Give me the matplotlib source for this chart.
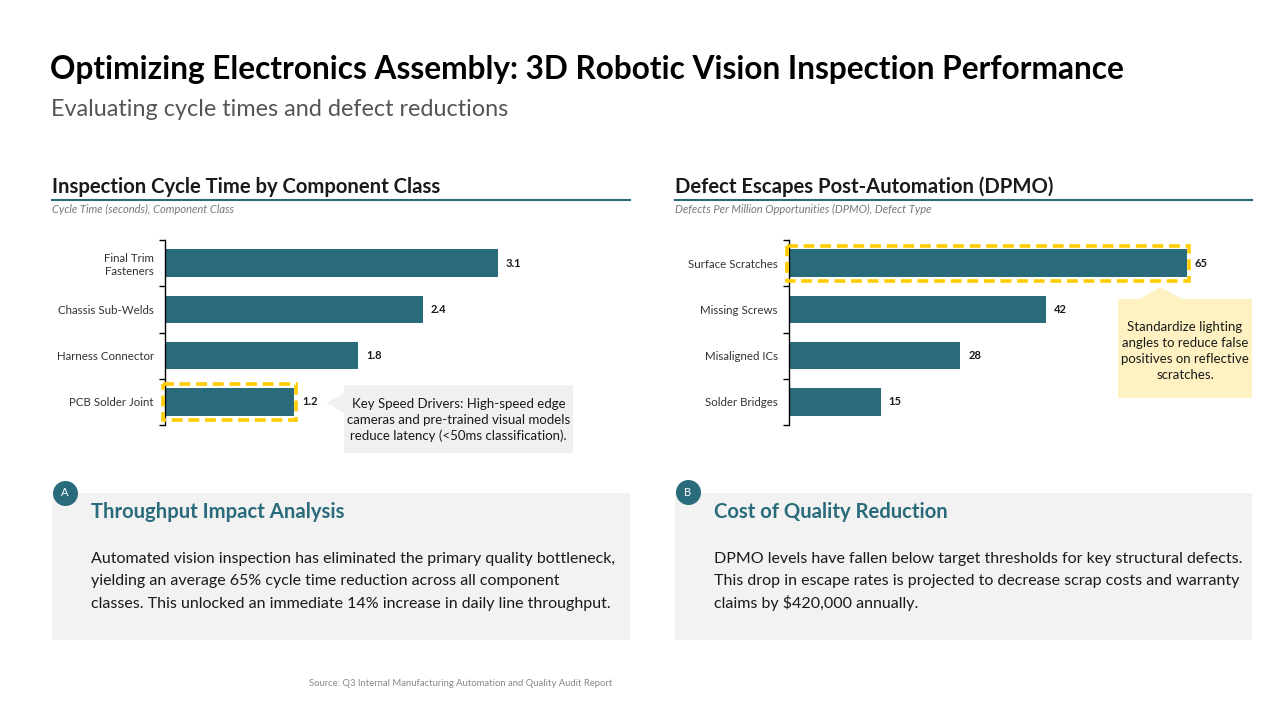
import matplotlib
matplotlib.use("Agg")
import matplotlib.pyplot as plt
from matplotlib.patches import Rectangle, Polygon
import numpy as np

plt.rcParams['font.family'] = ['Lato', 'DejaVu Sans']

TEAL = '#2A6B7B'
YELLOW = '#FFCC00'
DARK = '#1a1a1a'

# data
cycle_classes = ['Final Trim\nFasteners', 'Chassis Sub-Welds', 'Harness Connector', 'PCB Solder Joint']
cycle_times = [3.1, 2.4, 1.8, 1.2]
defect_types = ['Surface Scratches', 'Missing Screws', 'Misaligned ICs', 'Solder Bridges']
defect_dpmo = [65, 42, 28, 15]

W, H = 1280, 720
fig = plt.figure(figsize=(W / 100, H / 100), dpi=100)


def fx(x):
    return x / W


def fy(y):
    return 1 - y / H


def ftext(x, y, s, **kw):
    fig.text(fx(x), fy(y), s, **kw)


# headings
ftext(50, 69, 'Optimizing Electronics Assembly: 3D Robotic Vision Inspection Performance',
      fontsize=22.8, fontweight='bold', color='black', va='center')
ftext(51, 109, 'Evaluating cycle times and defect reductions', fontsize=16.8, color='#555555', va='center')


def section_header(x0, x1, title, sub):
    ftext(x0, 187, title, fontsize=14.6, fontweight='bold', color=DARK, va='center')
    fig.add_artist(plt.Line2D([fx(x0), fx(x1)], [fy(200), fy(200)], color=TEAL, lw=1.5))
    ftext(x0, 209, sub, fontsize=8, style='italic', color='#777777', va='center')


section_header(52, 630, 'Inspection Cycle Time by Component Class', 'Cycle Time (seconds), Component Class')
section_header(675, 1252, 'Defect Escapes Post-Automation (DPMO)',
               'Defects Per Million Opportunities (DPMO), Defect Type')


def bar_panel(left, right, cats, vals, px_per_unit, fmt, hl_idx, hl_pad):
    ax = fig.add_axes([fx(left), fy(425), (right - left) / W, 185 / H])
    y = np.arange(len(cats))
    ax.barh(y, vals, height=0.59, color=TEAL)
    ax.set_xlim(0, (right - left) / px_per_unit)
    ax.set_ylim(len(cats) - 0.5, -0.5)
    ax.set_xticks([])
    ax.set_yticks(y)
    ax.set_yticklabels(cats, fontsize=8.3, color='#333333', ha='right', linespacing=1.25)
    ax.tick_params(axis='y', which='major', length=0, pad=8)
    ax.set_yticks(np.arange(-0.5, len(cats)), minor=True)
    ax.tick_params(axis='y', which='minor', length=4, width=1)
    for s in ['top', 'right', 'bottom']:
        ax.spines[s].set_visible(False)
    ax.spines['left'].set_linewidth(1)
    off = 8 / px_per_unit
    for yi, v in zip(y, vals):
        ax.text(v + off, yi, fmt(v), fontsize=8, fontweight='bold', color=DARK, va='center')
    # dashed highlight
    v = vals[hl_idx]
    px = 2.5 / px_per_unit
    r = Rectangle((-px, hl_idx - hl_pad), v + 2 * px, 2 * hl_pad, fill=False, edgecolor=YELLOW,
                  lw=2.6, ls=(0, (3, 1.6)), clip_on=False, zorder=5)
    ax.add_patch(r)
    return ax


bar_panel(165, 630, cycle_classes, cycle_times, 107.4, lambda v: f'{v:.1f}', 3, 0.39)
bar_panel(789, 1252, defect_types, defect_dpmo, 6.12, lambda v: f'{v:d}', 0, 0.38)


def fig_rect(x0, y0, x1, y1, color, z=1):
    fig.add_artist(Rectangle((fx(x0), fy(y1)), (x1 - x0) / W, (y1 - y0) / H,
                             facecolor=color, edgecolor='none', zorder=z))


def fig_poly(pts, color, z=1):
    fig.add_artist(Polygon([(fx(a), fy(b)) for a, b in pts], closed=True,
                           facecolor=color, edgecolor='none', zorder=z))


# gray callout (left)
fig_rect(344, 385, 573, 453, '#F0F0F0')
fig_poly([(344, 393), (327, 403), (344, 413)], '#F0F0F0')
ftext(458.5, 420, 'Key Speed Drivers: High-speed edge\ncameras and pre-trained visual models\nreduce latency (<50ms classification).',
      fontsize=9.5, color=DARK, ha='center', va='center', linespacing=1.4)

# yellow callout (right)
fig_rect(1118, 299, 1252, 398, '#FFF2C2')
fig_poly([(1140, 299), (1160, 287), (1182, 299)], '#FFF2C2')
ftext(1185, 351, 'Standardize lighting\nangles to reduce false\npositives on reflective\nscratches.',
      fontsize=9.5, color=DARK, ha='center', va='center', linespacing=1.4)


def info_panel(x0, x1, title, lines):
    fig_rect(x0, 493, x1, 640, '#F2F2F2')
    ftext(x0 + 39, 512, title, fontsize=14.6, fontweight='bold', color=TEAL, va='center')
    for i, ln in enumerate(lines):
        ftext(x0 + 39, 563 + i * 22.5, ln, fontsize=11.5, color=DARK, va='baseline')


info_panel(52, 630, 'Throughput Impact Analysis',
           ['Automated vision inspection has eliminated the primary quality bottleneck,',
            'yielding an average 65% cycle time reduction across all component',
            'classes. This unlocked an immediate 14% increase in daily line throughput.'])
info_panel(675, 1252, 'Cost of Quality Reduction',
           ['DPMO levels have fallen below target thresholds for key structural defects.',
            'This drop in escape rates is projected to decrease scrap costs and warranty',
            'claims by $420,000 annually.'])

# letter badges drawn as round markers on an overlay axes above the panels
ov = fig.add_axes([0, 0, 1, 1], facecolor='none', zorder=10)
ov.set_xlim(0, W)
ov.set_ylim(H, 0)
ov.axis('off')
for cx, cy, lt in [(65, 493, 'A'), (688, 492, 'B')]:
    ov.plot(cx, cy, 'o', ms=18, color=TEAL, mec='none', zorder=4)
    ov.text(cx, cy, lt, color='white', fontsize=8, ha='center', va='center', zorder=5)

ftext(461, 684, 'Source: Q3 Internal Manufacturing Automation and Quality Audit Report',
      fontsize=6.8, color='#888888', ha='center', va='center')

fig.savefig('out.png', dpi=100, facecolor='white')
